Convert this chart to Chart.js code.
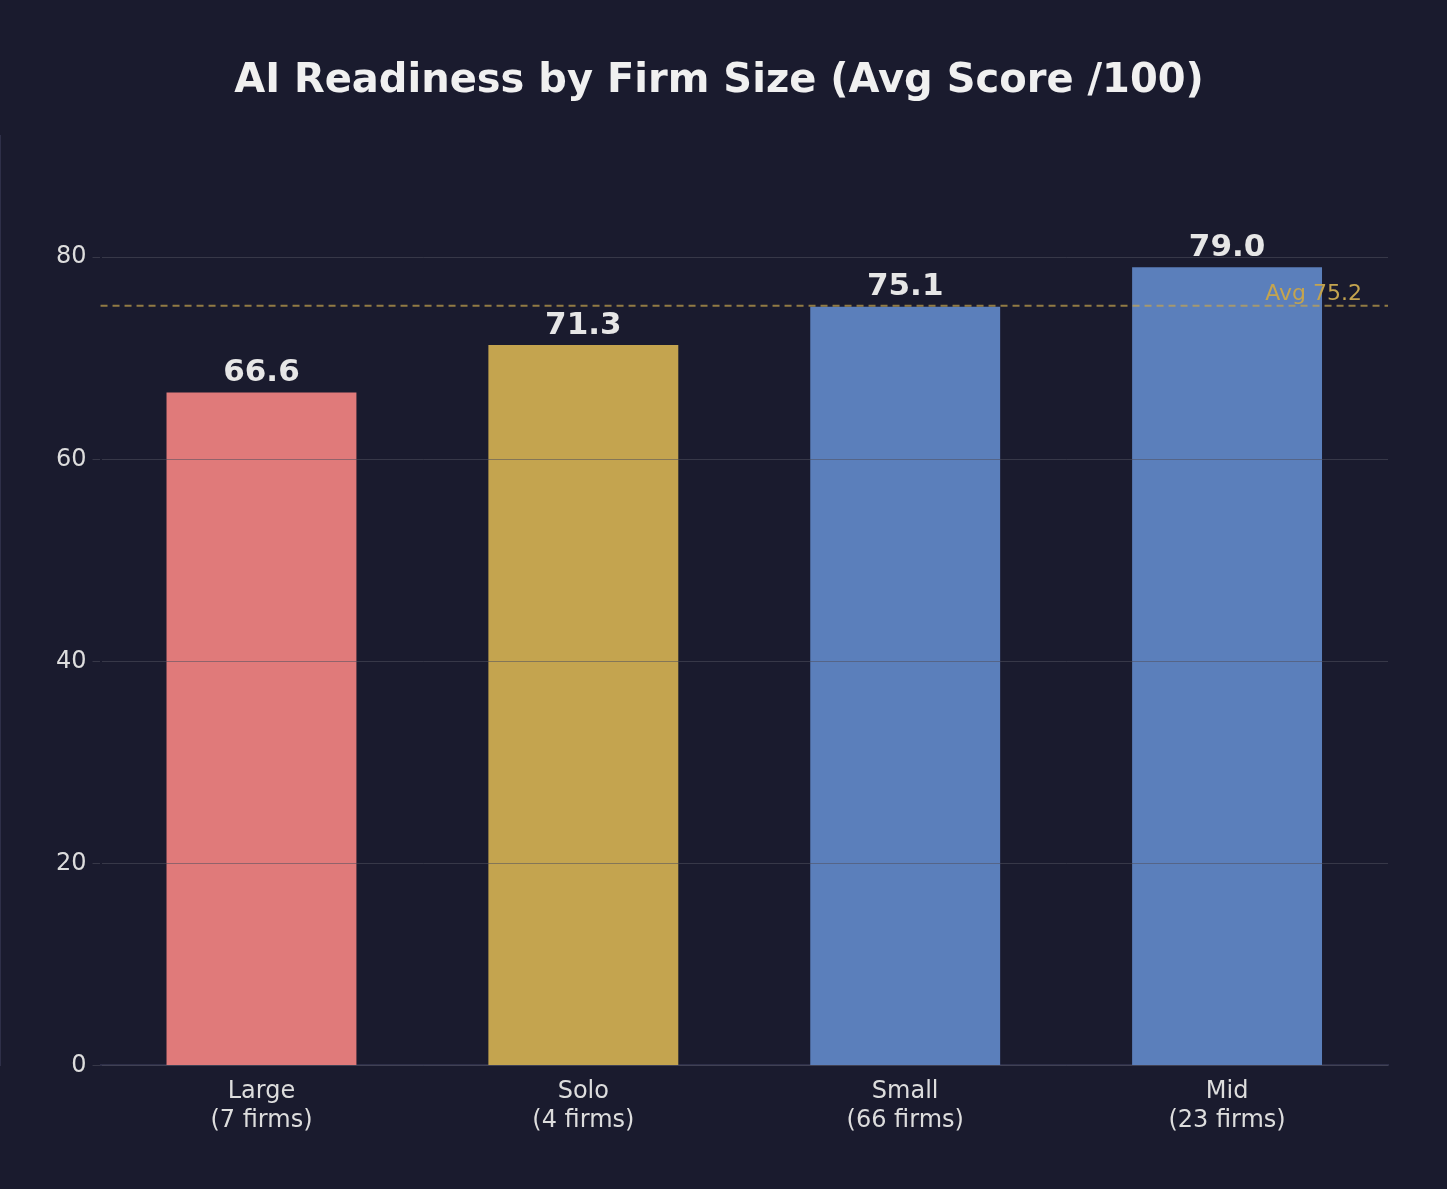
<!DOCTYPE html>
<html>
<head>
<meta charset="utf-8">
<script src="https://cdn.jsdelivr.net/npm/chart.js@4"></script>
<style>
  html, body { margin: 0; padding: 0; background: #1a1b2e; }
  #wrap { width: 1447px; height: 1189px; }
</style>
</head>
<body>
<div id="wrap"><canvas id="readinessChart"></canvas></div>
<script>
const categories = [['Large', '(7 firms)'], ['Solo', '(4 firms)'], ['Small', '(66 firms)'], ['Mid', '(23 firms)']];
const scores = [66.6, 71.3, 75.1, 79.0];
const barColors = ['#e07a7a', '#c4a44f', '#5b7fbb', '#5b7fbb'];
const avgScore = 75.2;
const yTicks = [0, 20, 40, 60, 80];

// value labels + average line
const overlayPlugin = {
    id: 'overlay',
    afterDatasetsDraw(chart) {
        const ctx = chart.ctx;
        const area = chart.chartArea;
        const y = chart.scales.y.getPixelForValue(avgScore);
        ctx.save();
        ctx.strokeStyle = 'rgba(196, 164, 79, 0.7)';
        ctx.lineWidth = 2;
        ctx.setLineDash([7, 5]);
        ctx.beginPath();
        ctx.moveTo(area.left, y);
        ctx.lineTo(area.right, y);
        ctx.stroke();
        ctx.setLineDash([]);
        ctx.fillStyle = '#c4a44f';
        ctx.font = '22px "DejaVu Sans"';
        ctx.textAlign = 'right';
        ctx.textBaseline = 'bottom';
        ctx.fillText('Avg ' + avgScore.toFixed(1), area.right - 26, y);

        ctx.fillStyle = '#e6e6e6';
        ctx.font = 'bold 31px "DejaVu Sans"';
        ctx.textAlign = 'center';
        ctx.textBaseline = 'bottom';
        chart.getDatasetMeta(0).data.forEach((bar, i) => {
            ctx.fillText(scores[i].toFixed(1), bar.x, bar.y - 4);
        });
        ctx.restore();
    }
};

new Chart(document.getElementById('readinessChart').getContext('2d'), {
    type: 'bar',
    data: {
        labels: categories,
        datasets: [{
            data: scores,
            backgroundColor: barColors,
            categoryPercentage: 1,
            barPercentage: 0.59
        }]
    },
    options: {
        responsive: true,
        maintainAspectRatio: false,
        animation: false,
        layout: { padding: { top: 10, right: 59, bottom: 50, left: 50 } },
        plugins: {
            legend: { display: false },
            tooltip: { enabled: false },
            title: {
                display: true,
                text: 'AI Readiness by Firm Size (Avg Score /100)',
                color: '#f0f0f0',
                font: { family: 'DejaVu Sans', size: 40, weight: 'bold' },
                padding: { top: 48, bottom: 30 }
            }
        },
        scales: {
            x: {
                grid: { display: false, drawTicks: true, tickLength: 8, color: '#3a3b55' },
                border: { color: '#2e2f48', width: 2 },
                ticks: { color: '#dddddd', font: { family: 'DejaVu Sans', size: 24 }, padding: 4 }
            },
            y: {
                min: 0,
                max: 92,
                afterBuildTicks(axis) { axis.ticks = yTicks.map(v => ({ value: v })); },
                grid: { color: 'rgba(80, 80, 95, 0.55)', z: 1, tickLength: 8 },
                border: { color: '#2e2f48', width: 2 },
                ticks: { color: '#dddddd', font: { family: 'DejaVu Sans', size: 24 }, padding: 6 }
            }
        }
    },
    plugins: [overlayPlugin]
});
</script>
</body>
</html>
